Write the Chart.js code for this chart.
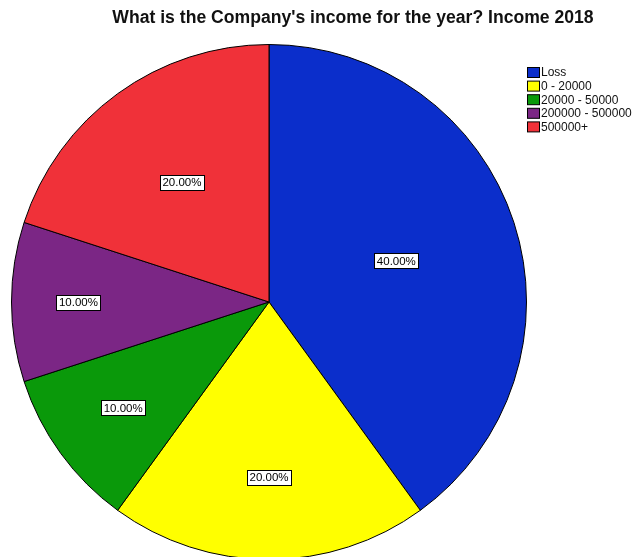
<!DOCTYPE html>
<html>
<head>
<meta charset="utf-8">
<script src="https://cdn.jsdelivr.net/npm/chart.js@4"></script>
<style>
  html, body { margin: 0; padding: 0; background: #fff; overflow: hidden; }
  #wrap { position: relative; width: 634px; height: 570px; }
</style>
</head>
<body>
<div id="wrap"><canvas id="incomePie"></canvas></div>
<script>
// data
const categories = ['Loss', '0 - 20000', '20000 - 50000', '200000 - 500000', '500000+'];
const percentValues = [40, 20, 10, 10, 20];
const sliceColors = ['#0b2ecb', '#ffff00', '#0a990a', '#7b2685', '#f03139'];
const chartTitle = "What is the Company's income for the year? Income 2018";

// how far from the centre each label sits (fraction of radius)
const labelRadius = [0.52, 0.68, 0.70, 0.74, 0.575];

// title, legend and boxed value labels
const spssDecor = {
    id: 'spssDecor',
    afterDatasetsDraw(chart) {
        const c = chart.ctx;
        c.save();
        // title
        c.fillStyle = '#111';
        c.font = 'bold 17.6px "Liberation Sans", Arial, sans-serif';
        c.textAlign = 'center';
        c.textBaseline = 'middle';
        c.fillText(chartTitle, 353, 18);

        // labels on slices
        const arcs = chart.getDatasetMeta(0).data;
        c.font = '11.5px "Liberation Sans", Arial, sans-serif';
        arcs.forEach((arc, i) => {
            const mid = (arc.startAngle + arc.endAngle) / 2;
            const r = arc.outerRadius * labelRadius[i];
            const x = arc.x + Math.cos(mid) * r;
            const y = arc.y + Math.sin(mid) * r;
            const txt = percentValues[i].toFixed(2) + '%';
            const w = c.measureText(txt).width + 5;
            const h = 15;
            const bx = Math.round(x - w / 2) + 0.5;
            const by = Math.round(y - h / 2) + 0.5;
            c.fillStyle = '#fff';
            c.fillRect(bx, by, Math.round(w), h);
            c.strokeStyle = '#000';
            c.lineWidth = 1;
            c.strokeRect(bx, by, Math.round(w), h);
            c.fillStyle = '#000';
            c.textAlign = 'center';
            c.fillText(txt, x, y + 1);
        });

        // legend
        c.textAlign = 'left';
        c.font = '12px "Liberation Sans", Arial, sans-serif';
        categories.forEach((cat, i) => {
            const y = 67 + i * 13.6;
            c.fillStyle = sliceColors[i];
            c.fillRect(527.5, y + 0.5, 12, 10);
            c.strokeStyle = '#000';
            c.strokeRect(527.5, y + 0.5, 12, 10);
            c.fillStyle = '#111';
            c.fillText(cat, 541, y + 6);
        });
        c.restore();
    }
};

const ctx = document.getElementById('incomePie').getContext('2d');
new Chart(ctx, {
    type: 'pie',
    data: {
        labels: categories,
        datasets: [{
            data: percentValues,
            backgroundColor: sliceColors,
            borderColor: '#000',
            borderWidth: 1
        }]
    },
    options: {
        responsive: true,
        maintainAspectRatio: false,
        animation: false,
        layout: {
            padding: { left: 11, right: 107, top: 44, bottom: 10 }
        },
        plugins: {
            legend: { display: false },
            title: { display: false },
            tooltip: { enabled: false }
        }
    },
    plugins: [spssDecor]
});
</script>
</body>
</html>
